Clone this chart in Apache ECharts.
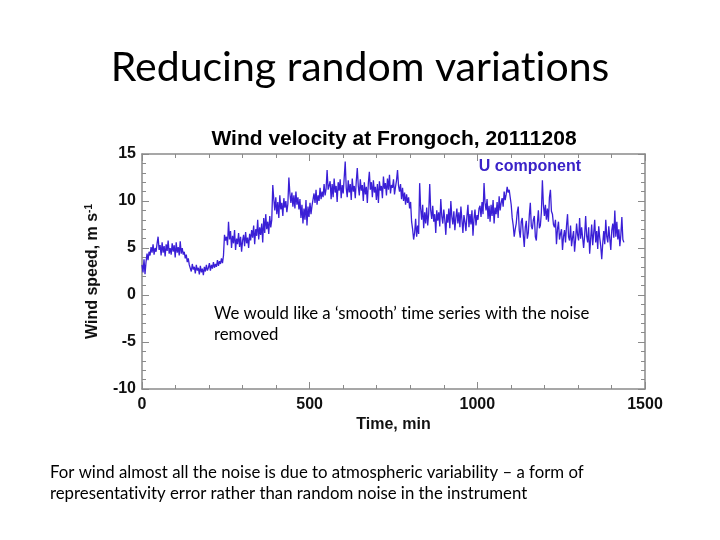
<!DOCTYPE html>
<html>
<head>
<meta charset="utf-8">
<script src="https://cdn.jsdelivr.net/npm/echarts@6/dist/echarts.min.js"></script>
<style>
html,body{margin:0;padding:0;background:#fff;}
#c{width:720px;height:540px;}
</style>
</head>
<body>
<div id="c"></div>
<script>
// Time step of the sampled series (minutes)
var timeStep = 3;
// U component wind speed (m/s), one value every 3 min from t=0
var uSpeed = [
 3.2, 2.4, 3.8, 2.2, 3.5, 4.4, 3.7, 4.6,
 4.2, 5.1, 4.5, 5.4, 4.3, 5.0, 4.6, 5.5,
 6.2,
 4.8, 5.3, 4.2, 5.6, 4.5, 5.2, 4.1, 5.4, 4.7, 5.8, 4.4, 5.0, 4.3, 5.5, 4.6, 5.3, 4.0, 5.6, 4.5, 5.1, 4.2, 5.7, 4.4, 5.0, 4.3,
 4.6, 3.9, 4.3, 3.5, 3.9, 3.2,
 3.1, 2.5, 3.3, 2.7, 3.0, 2.3, 3.2, 2.6, 2.9, 2.2, 3.1, 2.4, 2.8, 2.1, 3.0, 2.5, 3.2, 2.6,
 2.9, 3.4, 2.6, 3.2, 2.8, 3.5, 2.9, 3.3, 3.0, 3.7, 3.1, 3.6, 3.3, 3.9, 3.4, 4.2,
 6.4, 5.8,
 6.2, 5.3, 7.8, 5.9, 6.8, 5.0, 6.3, 5.5, 6.9, 4.8, 6.0, 5.4, 6.6, 5.1, 6.2, 4.6, 5.8, 6.4, 5.2, 6.7, 5.5, 6.1, 5.0, 6.5,
 5.8, 6.9, 6.1, 7.4, 5.4, 7.0, 6.3, 8.0, 5.9, 7.2, 6.4, 7.6, 5.6, 8.2, 6.6, 8.6, 7.0, 7.8, 6.5, 8.4, 7.2, 8.0,
 11.7, 10.2,
 9.0, 10.4, 8.6, 9.9, 8.2, 10.6, 9.1, 9.8, 8.4, 10.3, 9.3, 10.0, 8.8, 9.7,
 12.5, 10.8,
 9.8, 10.9, 9.4, 10.6, 9.2, 11.0, 9.6, 10.4, 9.1, 10.2,
 8.2, 9.6, 7.6, 9.2, 8.0, 10.1, 7.4, 9.4, 8.3, 9.8, 8.6, 9.5,
 9.4, 10.8, 9.8, 11.2, 9.6, 10.6, 10.0, 11.4, 10.2, 11.0, 10.4, 11.8, 10.6, 11.3,
 13.3, 11.2,
 11.0, 12.1, 10.2, 11.8, 10.4, 12.4, 10.9, 11.6, 9.9, 12.0, 11.1, 12.3, 10.3, 11.7, 10.8, 12.5,
 14.2,
 11.4, 10.4, 12.2, 10.9, 11.8, 10.1, 12.4, 11.0, 11.6, 10.3, 12.1,
 13.5,
 11.6, 10.6, 12.3, 11.1, 11.7, 10.0, 12.0, 10.7, 11.5, 9.8, 11.9,
 13.1,
 11.2, 12.0, 10.4, 12.2, 10.9, 11.5, 10.1, 11.8, 9.8, 12.1, 11.1, 11.6, 10.3, 12.6, 11.3, 11.9, 10.6, 12.4, 11.2, 12.8, 10.8, 11.7, 11.4, 12.3, 10.7,
 11.5, 12.2, 13.3, 11.6,
 11.0, 11.8, 10.2, 11.4, 10.0, 10.9, 9.6, 10.7, 9.8, 10.4, 9.2, 9.9,
 7.8, 7.0, 5.9, 6.6, 8.1, 6.2, 7.4, 6.5,
 11.9,
 9.2, 8.0, 9.6, 7.1, 8.8, 7.6, 9.3, 7.4, 8.7,
 11.8,
 9.0, 8.1, 9.5, 7.8, 8.6, 6.6, 9.0, 7.9, 8.8, 7.3, 10.2, 8.4, 7.6, 9.1, 8.0, 6.4, 8.6, 7.7, 9.2, 7.1,
 10.0, 8.3, 7.5, 8.9, 6.9, 8.2, 9.2, 7.6, 8.8, 7.2, 9.4, 8.0, 6.6, 8.5, 7.8,
 6.8, 8.4, 9.6, 7.2, 8.6, 7.5, 9.0, 6.3, 8.1, 9.1, 7.4, 8.5, 8.0, 9.2,
 9.5, 8.3, 9.9, 8.6, 11.9, 9.8,
 9.0, 10.2, 8.1, 9.5, 7.8, 9.6, 8.4, 10.1, 7.6, 9.3, 8.6, 9.9, 8.2, 10.5, 9.0, 9.8, 10.3, 9.4, 11.0, 10.1, 10.7, 11.5,
 10.9, 11.2, 10.4, 9.6, 8.2, 7.4, 6.2, 7.0,
 7.6, 8.8, 9.4, 6.9, 6.1, 7.8, 8.2, 6.4, 5.1, 7.2, 7.9, 6.0, 6.6, 8.5, 9.8, 7.3, 7.0, 8.0, 8.4, 6.2, 5.8, 7.6, 9.0, 7.1, 7.4, 8.8,
 12.2, 9.6,
 8.4, 9.6, 8.0, 9.2, 7.8, 10.4, 11.2, 8.9, 8.6, 7.5, 7.2, 8.0,
 5.4, 7.0, 7.8, 5.9, 6.5, 7.0, 4.8, 6.2, 6.9, 5.6, 7.4, 8.6, 6.2, 5.8, 7.4, 5.2, 6.1, 6.8, 4.6, 5.9,
 7.6, 6.4, 5.8, 8.2, 6.0, 7.2, 7.1, 5.0, 6.3, 8.4, 6.3, 5.6, 7.2, 4.4, 6.0, 7.5, 5.3, 6.6, 8.0, 5.6,
 6.8, 4.9, 7.3, 6.1, 5.2,
 3.8,
 5.5, 6.8, 5.4, 8.0, 6.2, 5.6, 7.3, 6.0, 4.8, 6.9, 7.6, 6.1,
 9.0,
 6.2, 7.8, 5.9, 7.0, 5.2, 6.4, 8.3, 5.9, 5.6
];
var xTicks = [0, 500, 1000, 1500];
var yTicks = [-10, -5, 0, 5, 10, 15];

var seriesData = uSpeed.map(function (v, i) { return [i * timeStep, v]; });

var chart = echarts.init(document.getElementById('c'), null, {renderer: 'canvas'});
var frameColor = '#8a8a8a';
var lblFont = {fontFamily: 'Liberation Sans', fontWeight: 'bold', fontSize: 16, color: '#111'};

function baseAxis(extra) {
  var o = {
    axisLine: {show: true, onZero: false, lineStyle: {color: frameColor, width: 1.5}},
    axisTick: {show: true, inside: true, length: 7, lineStyle: {color: frameColor}},
    minorTick: {show: true, splitNumber: 5, length: 4, lineStyle: {color: frameColor}},
    splitLine: {show: false},
    minorSplitLine: {show: false}
  };
  for (var k in extra) o[k] = extra[k];
  return o;
}

chart.setOption({
  backgroundColor: '#fff',
  animation: false,
  title: [
    {text: 'Reducing random variat\u200Cions', left: 'center', top: 42,
     textStyle: {fontFamily: 'Lato', fontWeight: 'normal', fontSize: 41, color: '#000'}},
    {text: 'Wind velocity at Frongoch, 20111208', left: 389, textAlign: 'center', top: 124,
     textStyle: {fontFamily: 'Liberation Sans', fontWeight: 'bold', fontSize: 21, color: '#000'}}
  ],
  legend: {
    data: ['U component'], right: 134, top: 154, icon: 'none', itemWidth: 0, itemGap: 0,
    textStyle: {fontFamily: 'Liberation Sans', fontWeight: 'bold', fontSize: 16, color: '#3a22c8', padding: 0}
  },
  grid: {left: 142, top: 154, width: 503, height: 235},
  xAxis: [
    baseAxis({type: 'value', min: xTicks[0], max: xTicks[xTicks.length - 1], interval: 500,
      position: 'bottom', name: 'Time, min', nameLocation: 'middle', nameGap: 28,
      nameTextStyle: {fontFamily: 'Liberation Sans', fontWeight: 'bold', fontSize: 16, color: '#111'},
      axisLabel: Object.assign({margin: 8, formatter: function (v) { return String(v); }}, lblFont)}),
    baseAxis({type: 'value', min: xTicks[0], max: xTicks[xTicks.length - 1], interval: 500,
      position: 'top', axisLabel: {show: false}})
  ],
  yAxis: [
    baseAxis({type: 'value', min: yTicks[0], max: yTicks[yTicks.length - 1], interval: 5,
      position: 'left', name: 'Wind speed, m s{sup|-1}', nameLocation: 'middle', nameGap: 40, nameRotate: 90,
      nameTextStyle: {fontFamily: 'Liberation Sans', fontWeight: 'bold', fontSize: 16, color: '#111',
        rich: {sup: {fontFamily: 'Liberation Sans', fontWeight: 'bold', fontSize: 10, color: '#111', verticalAlign: 'top', padding: [0, 0, 8, 0]}}},
      axisLabel: Object.assign({margin: 6}, lblFont)}),
    baseAxis({type: 'value', min: yTicks[0], max: yTicks[yTicks.length - 1], interval: 5,
      position: 'right', axisLabel: {show: false}})
  ],
  series: [{
    name: 'U component', type: 'line', xAxisIndex: 0, yAxisIndex: 0,
    data: seriesData, showSymbol: false, symbol: 'none',
    lineStyle: {color: '#3a1fd6', width: 1.3}, itemStyle: {color: '#3a1fd6'}
  }],
  graphic: [
    {type: 'text', left: 214, top: 303,
     style: {text: 'We would like a \u2018smooth\u2019 t\u200Cime series with the noise\nremoved',
       fontFamily: 'Lato', fontSize: 16.8, lineHeight: 21, fill: '#000'}},
    {type: 'text', left: 50, top: 462,
     style: {text: 'For wind almost all the noise is due to atmospheric variability \u2013 a form of\nrepresentat\u200Civity error rather than random noise in the instrument',
       fontFamily: 'Lato', fontSize: 16.8, lineHeight: 21, fill: '#000'}}
  ]
});
</script>
</body>
</html>
